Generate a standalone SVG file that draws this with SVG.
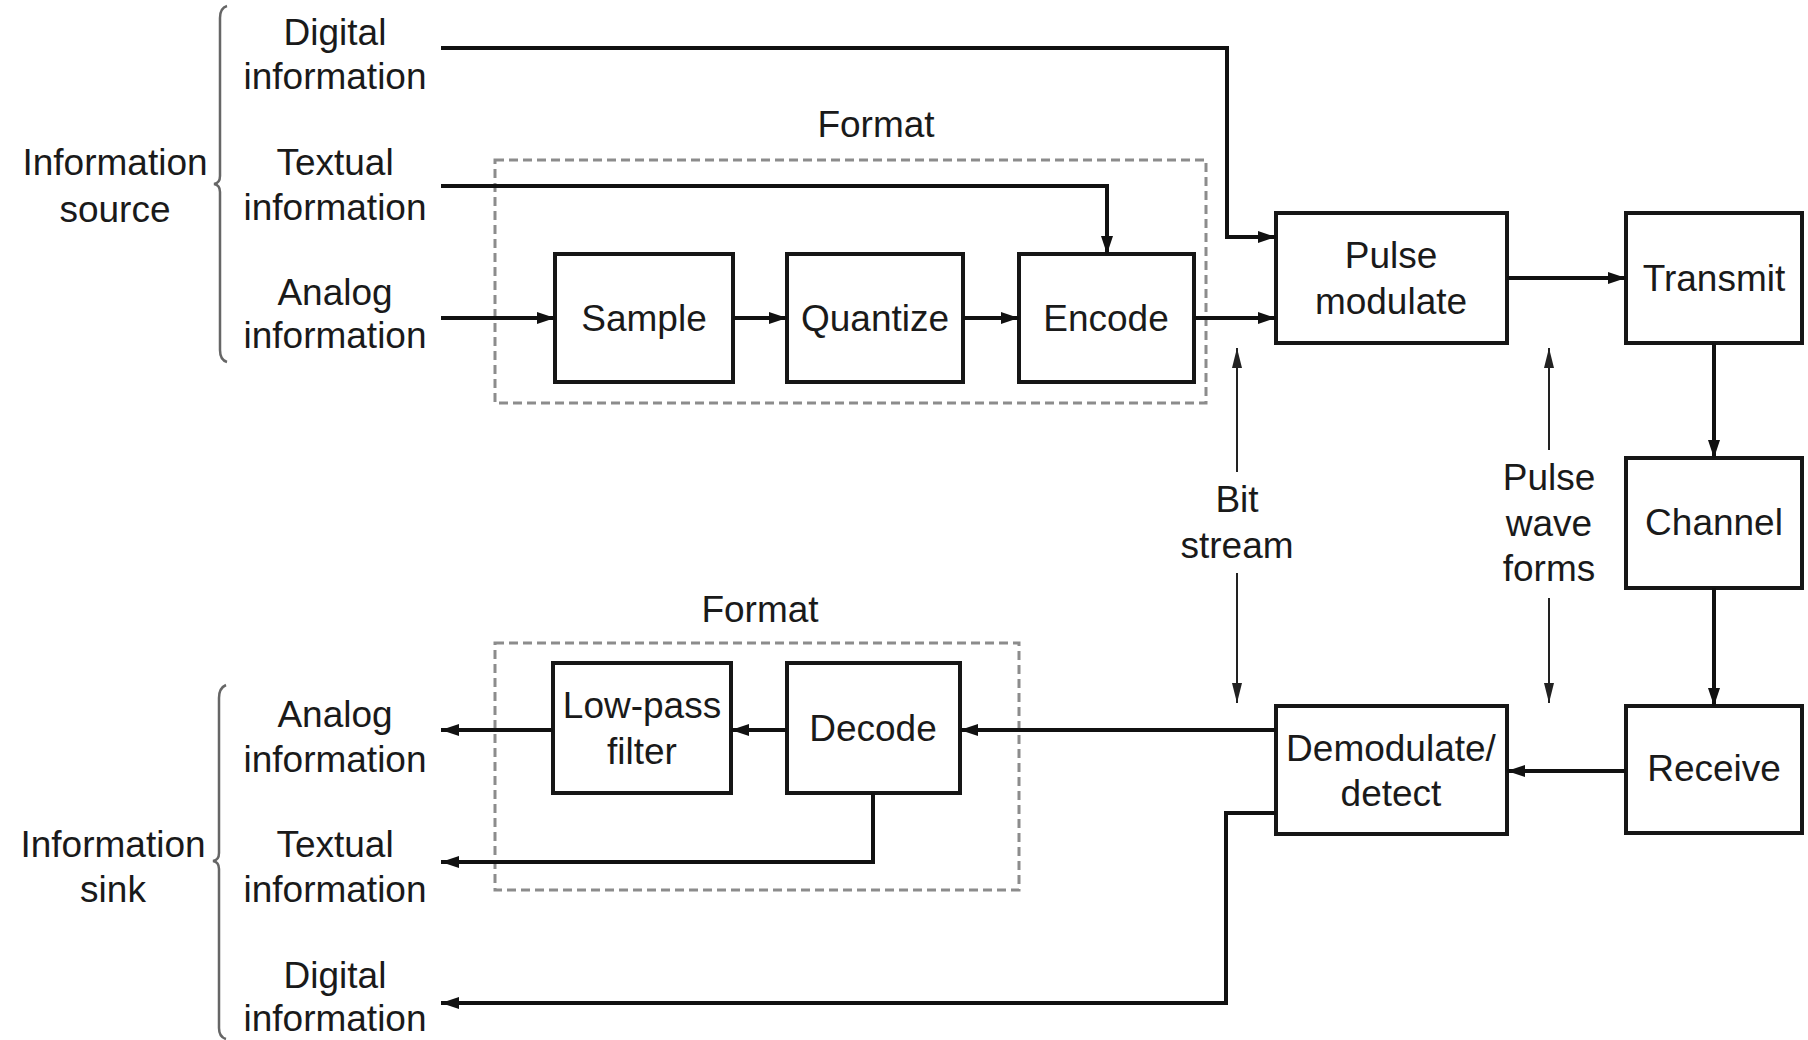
<svg xmlns="http://www.w3.org/2000/svg" width="1808" height="1040" viewBox="0 0 1808 1040">
<style>
text{font-family:"Liberation Sans",Arial,sans-serif;font-size:37px;fill:#1a1a1a;text-anchor:middle}
.box{fill:#fff;stroke:#161616;stroke-width:4}
.dash{fill:none;stroke:#8c8c8c;stroke-width:3;stroke-dasharray:9 5}
.brace{fill:none;stroke:#666;stroke-width:2.5}
.c{fill:none;stroke:#111;stroke-width:4}
.t{fill:none;stroke:#222;stroke-width:2}
</style>
<defs>
<marker id="ah" markerUnits="userSpaceOnUse" markerWidth="20" markerHeight="14" refX="18" refY="7" orient="auto"><path d="M0,1 L18,7 L0,13 z" fill="#111"/></marker>
<marker id="ahs" markerUnits="userSpaceOnUse" markerWidth="22" markerHeight="12" refX="20" refY="6" orient="auto"><path d="M0,1 L20,6 L0,11 z" fill="#222"/></marker>
</defs>
<rect width="1808" height="1040" fill="#fff"/>

<g id="information-source">
<path class="brace" d="M227,6 Q220,8 220,18 L220,176 Q220,183 214,184 Q220,185 220,192 L220,350 Q220,360 227,362"/>
<text x="115" y="175">Information</text>
<text x="115" y="222">source</text>
</g>
<g id="src-digital"><text x="335" y="45">Digital</text><text x="335" y="89">information</text></g>
<g id="src-textual"><text x="335" y="175">Textual</text><text x="335" y="220">information</text></g>
<g id="src-analog"><text x="335" y="305">Analog</text><text x="335" y="348">information</text></g>

<g id="format-top"><rect class="dash" x="495" y="160" width="711" height="243"/><text x="876" y="137">Format</text></g>
<g id="sample"><rect class="box" x="555" y="254" width="178" height="128"/><text x="644" y="331">Sample</text></g>
<g id="quantize"><rect class="box" x="787" y="254" width="176" height="128"/><text x="875" y="331">Quantize</text></g>
<g id="encode"><rect class="box" x="1019" y="254" width="175" height="128"/><text x="1106" y="331">Encode</text></g>
<g id="pulse-modulate"><rect class="box" x="1276" y="213" width="231" height="130"/><text x="1391" y="268">Pulse</text><text x="1391" y="314">modulate</text></g>
<g id="transmit"><rect class="box" x="1626" y="213" width="176" height="130"/><text x="1714" y="291">Transmit</text></g>
<g id="channel"><rect class="box" x="1626" y="458" width="176" height="130"/><text x="1714" y="535">Channel</text></g>
<g id="receive"><rect class="box" x="1626" y="706" width="176" height="127"/><text x="1714" y="781">Receive</text></g>
<g id="demodulate"><rect class="box" x="1276" y="706" width="231" height="128"/><text x="1391" y="761">Demodulate/</text><text x="1391" y="806">detect</text></g>
<g id="format-bottom"><rect class="dash" x="495" y="643" width="524" height="247"/><text x="760" y="622">Format</text></g>
<g id="decode"><rect class="box" x="787" y="663" width="173" height="130"/><text x="873" y="741">Decode</text></g>
<g id="low-pass"><rect class="box" x="553" y="663" width="178" height="130"/><text x="642" y="718">Low-pass</text><text x="642" y="764">filter</text></g>
<g id="bit-stream"><text x="1237" y="512">Bit</text><text x="1237" y="558">stream</text></g>
<g id="pulse-wave-forms"><text x="1549" y="490">Pulse</text><text x="1549" y="536">wave</text><text x="1549" y="581">forms</text></g>

<g id="information-sink">
<path class="brace" d="M226,685 Q219,688 219,698 L219,853 Q219,860 213,861 Q219,862 219,869 L219,1028 Q219,1037 226,1039"/>
<text x="113" y="857">Information</text>
<text x="113" y="902">sink</text>
</g>
<g id="sink-analog"><text x="335" y="727">Analog</text><text x="335" y="772">information</text></g>
<g id="sink-textual"><text x="335" y="857">Textual</text><text x="335" y="902">information</text></g>
<g id="sink-digital"><text x="335" y="988">Digital</text><text x="335" y="1031">information</text></g>

<g id="connectors">
<path class="c" d="M441,48 H1227 V237 H1276" marker-end="url(#ah)"/>
<path class="c" d="M441,186 H1107 V254" marker-end="url(#ah)"/>
<path class="c" d="M441,318 H555" marker-end="url(#ah)"/>
<path class="c" d="M733,318 H787" marker-end="url(#ah)"/>
<path class="c" d="M963,318 H1019" marker-end="url(#ah)"/>
<path class="c" d="M1194,318 H1276" marker-end="url(#ah)"/>
<path class="c" d="M1507,278 H1626" marker-end="url(#ah)"/>
<path class="c" d="M1714,343 V458" marker-end="url(#ah)"/>
<path class="c" d="M1714,588 V706" marker-end="url(#ah)"/>
<path class="c" d="M1626,771 H1507" marker-end="url(#ah)"/>
<path class="c" d="M1276,730 H960" stroke-width="5" marker-end="url(#ah)"/>
<path class="c" d="M787,730 H731" marker-end="url(#ah)"/>
<path class="c" d="M553,730 H441" marker-end="url(#ah)"/>
<path class="c" d="M873,793 V862 H441" stroke-width="3.5" marker-end="url(#ah)"/>
<path class="c" d="M1276,813 H1226 V1003 H441" marker-end="url(#ah)"/>
<path class="t" d="M1237,472 V348" marker-end="url(#ahs)"/>
<path class="t" d="M1237,573 V703" marker-end="url(#ahs)"/>
<path class="t" d="M1549,450 V348" marker-end="url(#ahs)"/>
<path class="t" d="M1549,598 V703" marker-end="url(#ahs)"/>
</g>
</svg>
